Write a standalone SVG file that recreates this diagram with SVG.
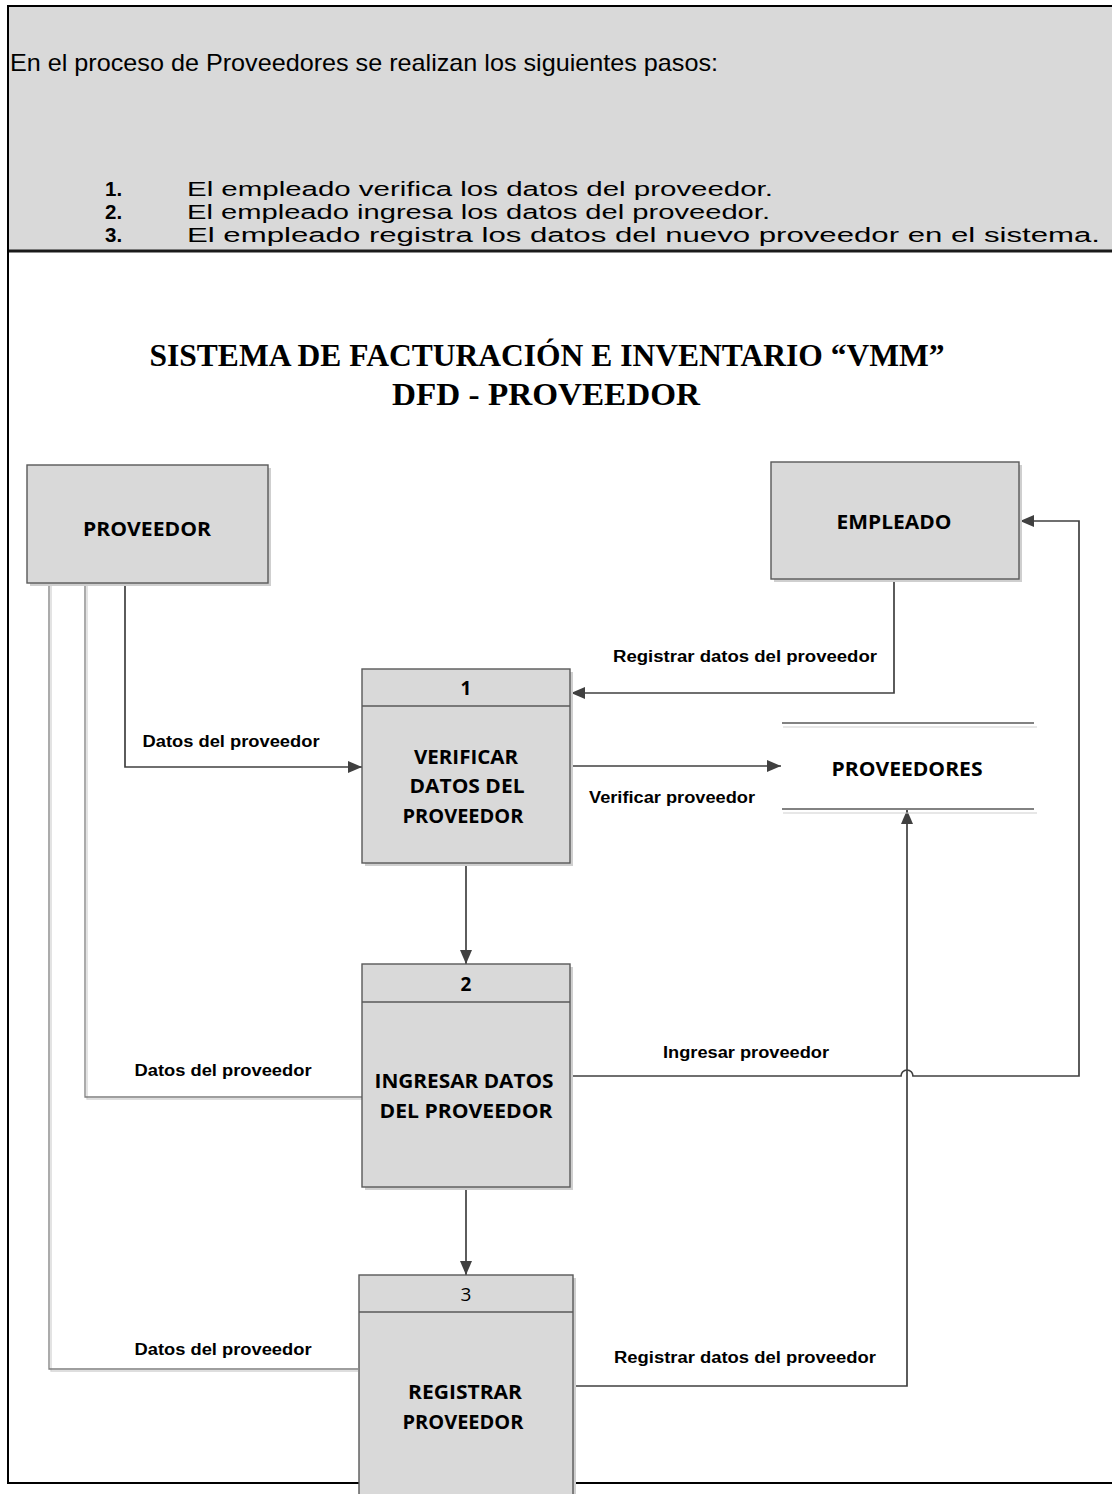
<svg xmlns="http://www.w3.org/2000/svg" width="1112" height="1494" viewBox="0 0 1112 1494">
  <style>
    .hdr { font-family: "Liberation Sans", Arial, sans-serif; font-size: 24px; fill: #000; }
    .item { font-family: "Liberation Sans", Arial, sans-serif; font-size: 20.5px; fill: #000; }
    .num { font-weight: bold; }
    .title { font-family: "Liberation Serif", "Times New Roman", serif; font-weight: bold; font-size: 32px; fill: #000; text-anchor: middle; }
    .box { fill: #d9d9d9; stroke: #595959; stroke-width: 1.4; }
    .shadow { fill: #cfcfcf; }
    .ntext { font-family: "Open Sans", "Noto Sans", sans-serif; font-weight: bold; font-size: 19px; fill: #000; text-anchor: middle; }
    .nnum { font-family: "Open Sans", "Noto Sans", sans-serif; font-size: 19px; fill: #000; text-anchor: middle; }
    .flow { fill: none; stroke: #404040; stroke-width: 1.7; }
    .flow-soft { fill: none; stroke: #7f7f7f; stroke-width: 1.3; }
    .flow-shade { fill: none; stroke: #d4d4d4; stroke-width: 1.3; }
    .lbl { font-family: "Liberation Sans", Arial, sans-serif; font-weight: bold; font-size: 16px; fill: #000; text-anchor: middle; }
    .store { stroke: #595959; stroke-width: 1.4; }
    .store-shade { stroke: #d0d0d0; stroke-width: 1.2; }
  </style>
  <defs>
    <marker id="arrow" viewBox="0 0 14 12" refX="14" refY="6" markerWidth="14" markerHeight="12" markerUnits="userSpaceOnUse" orient="auto">
      <path d="M0,0 L14,6 L0,12 Z" fill="#404040"/>
    </marker>
  </defs>

  <rect width="1112" height="1494" fill="#fff"/>

  <!-- description panel -->
  <g id="header">
    <rect x="8" y="6" width="1104" height="245" fill="#d9d9d9"/>
    <line x1="7" y1="6" x2="1112" y2="6" stroke="#000" stroke-width="2"/>
    <line x1="8" y1="251" x2="1112" y2="251" stroke="#1a1a1a" stroke-width="3"/>
    <text class="hdr" x="10" y="71" textLength="708" lengthAdjust="spacingAndGlyphs">En el proceso de Proveedores se realizan los siguientes pasos:</text>
    <text class="item num" x="105" y="196">1.</text>
    <text class="item" x="187" y="196" textLength="586" lengthAdjust="spacingAndGlyphs">El empleado verifica los datos del proveedor.</text>
    <text class="item num" x="105" y="219">2.</text>
    <text class="item" x="187" y="219" textLength="583" lengthAdjust="spacingAndGlyphs">El empleado ingresa los datos del proveedor.</text>
    <text class="item num" x="105" y="242">3.</text>
    <text class="item" x="187" y="242" textLength="913" lengthAdjust="spacingAndGlyphs">El empleado registra los datos del nuevo proveedor en el sistema.</text>
  </g>

  <!-- outer frame -->
  <g id="frame" stroke="#000" stroke-width="2">
    <line x1="8" y1="5" x2="8" y2="1484"/>
    <line x1="8" y1="1483" x2="1112" y2="1483"/>
  </g>

  <g id="title">
    <text class="title" x="547" y="366" textLength="795" lengthAdjust="spacingAndGlyphs">SISTEMA DE FACTURACIÓN E INVENTARIO “VMM”</text>
    <text class="title" x="546" y="405" textLength="308" lengthAdjust="spacingAndGlyphs">DFD - PROVEEDOR</text>
  </g>

  <!-- connectors -->
  <g id="connectors">
    <!-- PROVEEDOR -> 1 -->
    <path class="flow" d="M125,583 V767 H362" marker-end="url(#arrow)"/>
    <!-- PROVEEDOR -> 2 -->
    <path class="flow-shade" d="M87,583 V1099 H362"/>
    <path class="flow-soft" d="M85,583 V1097 H362"/>
    <!-- PROVEEDOR -> 3 -->
    <path class="flow-shade" d="M51,583 V1371 H358"/>
    <path class="flow-soft" d="M49,583 V1369 H358"/>
    <!-- EMPLEADO -> 1 -->
    <path class="flow" d="M894,579 V693 H571" marker-end="url(#arrow)"/>
    <!-- 1 -> PROVEEDORES -->
    <path class="flow" d="M570,766 H781" marker-end="url(#arrow)"/>
    <!-- 1 -> 2 -->
    <path class="flow" d="M466,863 V964" marker-end="url(#arrow)"/>
    <!-- 2 -> 3 -->
    <path class="flow" d="M466,1188 V1275" marker-end="url(#arrow)"/>
    <!-- 3 -> PROVEEDORES -->
    <path class="flow" d="M573,1386 H907 V810" marker-end="url(#arrow)"/>
    <!-- 2 -> EMPLEADO, hopping over the store line -->
    <path class="flow" d="M570,1076 H901 A6,6 0 0 1 913,1076 H1079 V521 H1020" marker-end="url(#arrow)"/>

    <text class="lbl" x="745" y="662" textLength="264" lengthAdjust="spacingAndGlyphs">Registrar datos del proveedor</text>
    <text class="lbl" x="231" y="747" textLength="177" lengthAdjust="spacingAndGlyphs">Datos del proveedor</text>
    <text class="lbl" x="672" y="803" textLength="166" lengthAdjust="spacingAndGlyphs">Verificar proveedor</text>
    <text class="lbl" x="223" y="1076" textLength="177" lengthAdjust="spacingAndGlyphs">Datos del proveedor</text>
    <text class="lbl" x="746" y="1058" textLength="166" lengthAdjust="spacingAndGlyphs">Ingresar proveedor</text>
    <text class="lbl" x="223" y="1355" textLength="177" lengthAdjust="spacingAndGlyphs">Datos del proveedor</text>
    <text class="lbl" x="745" y="1363" textLength="262" lengthAdjust="spacingAndGlyphs">Registrar datos del proveedor</text>
  </g>

  <!-- external entities -->
  <g id="proveedor">
    <rect class="shadow" x="30" y="468" width="241" height="118"/>
    <rect class="box" x="27" y="465" width="241" height="118"/>
    <text class="ntext" x="147" y="536" textLength="128" lengthAdjust="spacingAndGlyphs">PROVEEDOR</text>
  </g>

  <g id="empleado">
    <rect class="shadow" x="774" y="465" width="248" height="117"/>
    <rect class="box" x="771" y="462" width="248" height="117"/>
    <text class="ntext" x="894" y="529" textLength="115" lengthAdjust="spacingAndGlyphs">EMPLEADO</text>
  </g>

  <!-- data store -->
  <g id="proveedores">
    <line class="store-shade" x1="783" y1="727" x2="1037" y2="727"/>
    <line class="store" x1="782" y1="723" x2="1034" y2="723"/>
    <line class="store-shade" x1="783" y1="813" x2="1037" y2="813"/>
    <line class="store" x1="782" y1="809" x2="1034" y2="809"/>
    <text class="ntext" x="907" y="776" textLength="151" lengthAdjust="spacingAndGlyphs">PROVEEDORES</text>
  </g>

  <!-- processes -->
  <g id="proceso-1">
    <rect class="shadow" x="365" y="672" width="208" height="194"/>
    <rect class="box" x="362" y="669" width="208" height="194"/>
    <line class="box" x1="362" y1="706" x2="570" y2="706"/>
    <text class="ntext" x="466" y="695">1</text>
    <text class="ntext" x="466" y="764" textLength="104" lengthAdjust="spacingAndGlyphs">VERIFICAR</text>
    <text class="ntext" x="467" y="793" textLength="115" lengthAdjust="spacingAndGlyphs">DATOS DEL</text>
    <text class="ntext" x="463" y="823" textLength="121" lengthAdjust="spacingAndGlyphs">PROVEEDOR</text>
  </g>

  <g id="proceso-2">
    <rect class="shadow" x="365" y="967" width="208" height="223"/>
    <rect class="box" x="362" y="964" width="208" height="223"/>
    <line class="box" x1="362" y1="1002" x2="570" y2="1002"/>
    <text class="ntext" x="466" y="991">2</text>
    <text class="ntext" x="464" y="1088" textLength="179" lengthAdjust="spacingAndGlyphs">INGRESAR DATOS</text>
    <text class="ntext" x="466" y="1118" textLength="173" lengthAdjust="spacingAndGlyphs">DEL PROVEEDOR</text>
  </g>

  <g id="proceso-3">
    <rect class="shadow" x="362" y="1278" width="214" height="230"/>
    <rect class="box" x="359" y="1275" width="214" height="230"/>
    <line class="box" x1="359" y1="1312" x2="573" y2="1312"/>
    <text class="nnum" x="466" y="1301">3</text>
    <text class="ntext" x="465" y="1399" textLength="114" lengthAdjust="spacingAndGlyphs">REGISTRAR</text>
    <text class="ntext" x="463" y="1429" textLength="121" lengthAdjust="spacingAndGlyphs">PROVEEDOR</text>
  </g>
</svg>
